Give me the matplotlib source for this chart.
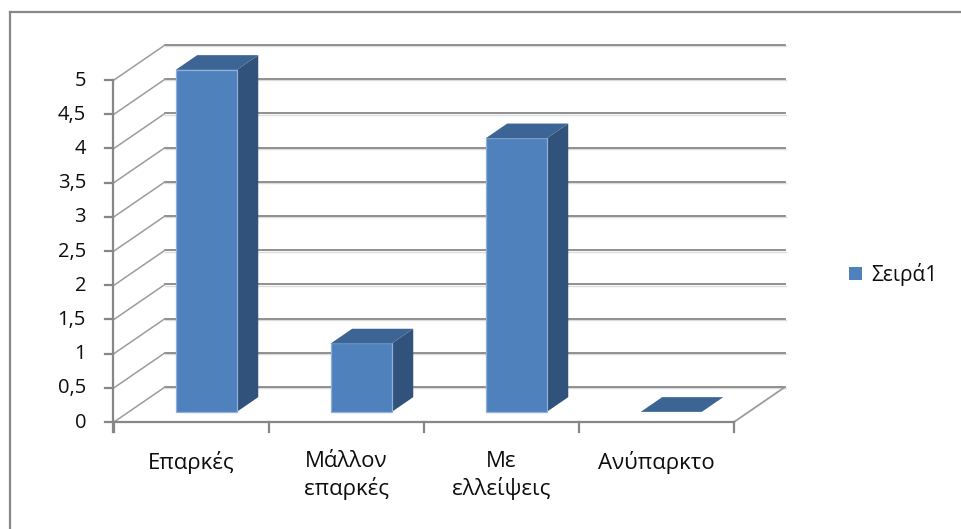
import matplotlib
matplotlib.use("Agg")
import matplotlib.pyplot as plt
from matplotlib.patches import Polygon, Rectangle
from matplotlib.lines import Line2D

# Data
categories = ["Επαρκές", "Μάλλον\nεπαρκές", "Με\nελλείψεις", "Ανύπαρκτο"]
values = [5, 1, 4, 0]
series_name = "Σειρά1"
y_ticks = [0, 0.5, 1, 1.5, 2, 2.5, 3, 3.5, 4, 4.5, 5]
y_tick_labels = ["0", "0,5", "1", "1,5", "2", "2,5", "3", "3,5", "4", "4,5", "5"]

W, H = 961, 529
fig = plt.figure(figsize=(W / 100, H / 100), dpi=100)
ax = fig.add_axes([0, 0, 1, 1])
ax.set_xlim(0, W)
ax.set_ylim(H, 0)
ax.axis("off")

# Oblique projection of the 3-D box onto the page
X0, Y0 = 114, 422      # front-left-bottom corner
CW = 155               # width of one category slot
VS = (422 - 80) / 5    # pixels per value unit
DX, DY = 51, 35        # full-depth offset


def proj(u, v, d):
    return (X0 + u * CW + d * DX, Y0 - v * VS - d * DY)


n = len(categories)
grid_c = "#878787"
font = ["Open Sans", "DejaVu Sans"]
txt_c = "#0d0d0d"

# Outer frame (top and left edges)
ax.add_line(Line2D([9.5, W], [12, 12], color="#888888", lw=1.6))
ax.add_line(Line2D([9.5, 9.5], [12, H], color="#888888", lw=1.6))

# Back wall gridlines and left wall diagonals
for v in y_ticks:
    xa, ya = proj(0, v, 1)
    xb, yb = proj(n, v, 1)
    ax.add_line(Line2D([xa, xb + 1], [ya + 1.3, yb + 1.3], color="#dcdcdc", lw=1.0))
    ax.add_line(Line2D([xa, xb], [ya, yb], color=grid_c, lw=1.3))
    xf, yf = proj(0, v, 0)
    ax.add_line(Line2D([xf, xa], [yf, ya], color="#9c9c9c", lw=1.1))

# Floor right edge
xa, ya = proj(n, 0, 0)
xb, yb = proj(n, 0, 1)
ax.add_line(Line2D([xa, xb], [ya, yb], color="#9c9c9c", lw=1.3))

# Value axis with tick marks and labels
ax.add_line(Line2D([X0 - 1, X0 - 1], [proj(0, 5, 0)[1], Y0 + 10], color=grid_c, lw=1.6))
for v, lab in zip(y_ticks, y_tick_labels):
    x, y = proj(0, v, 0)
    ax.add_line(Line2D([x - 9, x - 1], [y, y], color=grid_c, lw=1.6))
    ax.text(86, y + 0.5, lab, ha="right", va="center", fontsize=14.5,
            family=font, color=txt_c)

# Category axis with tick marks and labels
xa, _ = proj(0, 0, 0)
xb, _ = proj(n, 0, 0)
ax.add_line(Line2D([xa - 1, xb], [Y0, Y0], color=grid_c, lw=1.6))
for i in range(n + 1):
    x, y = proj(i, 0, 0)
    ax.add_line(Line2D([x, x], [y, y + 10], color=grid_c, lw=1.6))
for i, lab in enumerate(categories):
    x, _ = proj(i + 0.5, 0, 0)
    ax.text(x, 451, lab, ha="center", va="top", fontsize=16,
            family=font, color=txt_c, linespacing=1.28)

# 3-D bars
front_c, side_c, top_c = "#4F81BD", "#31527B", "#3C6494"
u_lo, u_hi = 0.303, 0.697
d1, d2 = 0.29, 0.71
for i, v in enumerate(values):
    u0, u1 = i + u_lo, i + u_hi
    if v > 0:
        side = [proj(u1, 0, d1), proj(u1, 0, d2), proj(u1, v, d2), proj(u1, v, d1)]
        ax.add_patch(Polygon(side, closed=True, fc=side_c, ec="none", zorder=3))
        front = [proj(u0, 0, d1), proj(u1, 0, d1), proj(u1, v, d1), proj(u0, v, d1)]
        ax.add_patch(Polygon(front, closed=True, fc=front_c, ec="#8fb0da", lw=0.9, zorder=4))
    top = [proj(u0, v, d1), proj(u1, v, d1), proj(u1, v, d2), proj(u0, v, d2)]
    ax.add_patch(Polygon(top, closed=True, fc=top_c, ec="none", zorder=5))

# Legend
ax.add_patch(Rectangle((849, 267), 13, 13, fc=front_c, ec="none"))
ax.text(871, 274, series_name, ha="left", va="center", fontsize=15,
        family=font, color=txt_c)

fig.savefig("out.png", dpi=100)
